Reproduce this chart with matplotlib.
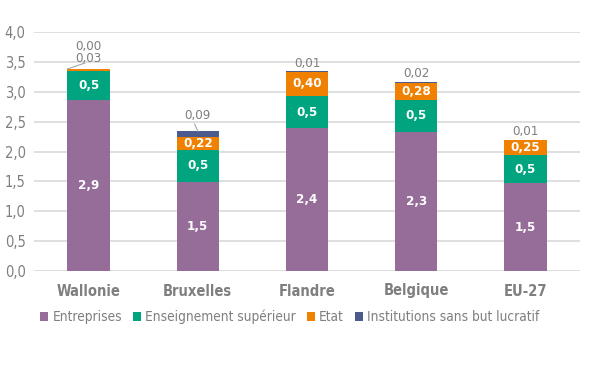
import matplotlib.pyplot as plt
import numpy as np

# ================================
# Data
# ================================
regions = ["Wallonie", "Bruxelles", "Flandre", "Belgique", "EU-27"]
entreprises = [2.86, 1.49, 2.39, 2.33, 1.47]
enseignement = [0.49, 0.54, 0.54, 0.54, 0.47]
etat = [0.03, 0.22, 0.40, 0.28, 0.25]
isbl = [0.00, 0.09, 0.01, 0.02, 0.01]
series_names = ["Entreprises", "Enseignement supérieur", "Etat",
                "Institutions sans but lucratif"]

colors = ["#966C98", "#00A47E", "#F08100", "#4C5B8E"]
grey = "#7F7F7F"

plt.rcParams["font.family"] = ["DejaVu Sans"]
plt.rcParams["font.stretch"] = "condensed"

fig = plt.figure(figsize=(6.0, 3.79), dpi=100)
ax = fig.add_axes([34 / 600, 108 / 379, 546 / 600, 239 / 379])

x = np.arange(len(regions))
w = 0.39
bottom = np.zeros(len(regions))
all_series = [entreprises, enseignement, etat, isbl]
for vals, col, name in zip(all_series, colors, series_names):
    ax.bar(x, vals, w, bottom=bottom, color=col, label=name, zorder=3)
    bottom = bottom + np.array(vals)

fs = 9.5
# labels inside bars
for i in range(len(regions)):
    ax.text(x[i], entreprises[i] / 2, f"{entreprises[i]:.1f}".replace(".", ","),
            ha="center", va="center", color="white", fontsize=fs, fontweight="bold")
    ax.text(x[i], entreprises[i] + enseignement[i] / 2,
            f"{enseignement[i]:.1f}".replace(".", ","),
            ha="center", va="center", color="white", fontsize=fs, fontweight="bold")
    if etat[i] > 0.1:
        ax.text(x[i], entreprises[i] + enseignement[i] + etat[i] / 2,
                f"{etat[i]:.2f}".replace(".", ","),
                ha="center", va="center", color="white", fontsize=fs, fontweight="bold")

# labels above bars
tops = bottom
fmt = lambda v: f"{v:.2f}".replace(".", ",")
# Wallonie: two small labels with leader line
ax.plot([x[0] - w / 2, x[0] - w / 2 + 0.16], [tops[0], tops[0] + 0.1],
        color="#A6A6A6", lw=0.8, zorder=4)
ax.text(x[0], tops[0] + 0.17, fmt(etat[0]), ha="center", va="center",
        color=grey, fontsize=fs)
ax.text(x[0], tops[0] + 0.38, fmt(isbl[0]), ha="center", va="center",
        color=grey, fontsize=fs)
# Bruxelles: leader line
ax.plot([x[1], x[1] - 0.03], [tops[1], tops[1] + 0.12],
        color="#A6A6A6", lw=0.8, zorder=4)
ax.text(x[1], tops[1] + 0.26, fmt(isbl[1]), ha="center", va="center",
        color=grey, fontsize=fs)
for i in [2, 3, 4]:
    ax.text(x[i], tops[i] + 0.13, fmt(isbl[i]), ha="center", va="center",
            color=grey, fontsize=fs)

ax.set_ylim(0, 4.0)
ax.set_xlim(-0.5, len(regions) - 0.5)
ax.set_yticks(np.arange(0, 4.01, 0.5))
ax.set_yticklabels([f"{v:.1f}".replace(".", ",") for v in np.arange(0, 4.01, 0.5)])
ax.set_xticks(x)
ax.set_xticklabels(regions, fontweight="bold")
ax.tick_params(axis="both", length=0, colors=grey, labelsize=10.5)
ax.tick_params(axis="x", pad=9)
ax.tick_params(axis="y", pad=6)
ax.grid(axis="y", color="#D9D9D9", lw=1.2, zorder=0)
for s in ax.spines.values():
    s.set_visible(False)

leg = fig.legend(loc="center", bbox_to_anchor=(0.483, 1 - 317 / 379), ncol=4,
                 frameon=False, fontsize=9.8, handlelength=0.6, handleheight=0.6,
                 handletextpad=0.3, columnspacing=0.8)
for t in leg.get_texts():
    t.set_color(grey)

fig.savefig("out.png", dpi=100)
